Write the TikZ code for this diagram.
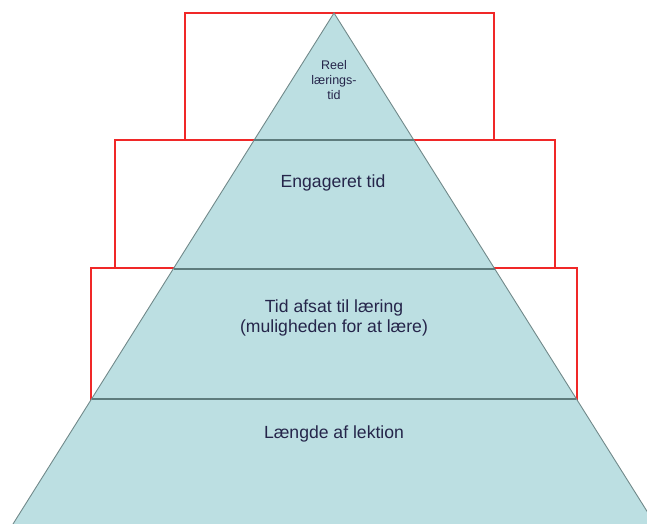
\documentclass[tikz,border=0pt]{standalone}
\usepackage{fontspec}
\setmainfont{Liberation Sans}
\definecolor{pyrfill}{HTML}{BCDFE2}
\definecolor{bandline}{HTML}{5E7C7D}
\definecolor{edgeline}{HTML}{71898A}
\definecolor{boxred}{HTML}{F02828}
\definecolor{txt}{HTML}{25254A}
\tikzset{
  redbox/.style={draw=boxred, line width=1.5pt},
  band/.style={draw=bandline, line width=2.6pt},
  lbl/.style={text=txt, align=center, inner sep=0pt, font=\fontsize{17.6}{19.5}\selectfont},
  smalllbl/.style={text=txt, align=center, inner sep=0pt, font=\fontsize{12.5}{15}\selectfont},
}
\begin{document}
\begin{tikzpicture}[x=1pt,y=-1pt]
\useasboundingbox (0,0) rectangle (647,524);
\clip (0,0) rectangle (647,524);
% red boxes
\draw[redbox] (185,13) rectangle (494,140);
\draw[redbox] (115,140) rectangle (555,268);
\draw[redbox] (91,268) rectangle (577,399);
% pyramid
\coordinate (A) at (334,13);
\coordinate (L1) at (254.4,140);
\coordinate (R1) at (413.6,140);
\coordinate (L2) at (173.5,269);
\coordinate (R2) at (494.5,269);
\coordinate (L3) at (92,399);
\coordinate (R3) at (576,399);
\coordinate (BL) at (13,524);
\coordinate (BR) at (655,524);
\fill[pyrfill] (A) -- (BL) -- (BR) -- cycle;
\draw[edgeline, line width=0.9pt] (BL) -- (A) -- (BR);
\draw[band] (L1) -- (R1);
\draw[band] (L2) -- (R2);
\draw[band] (L3) -- (R3);
% labels
\node[smalllbl] (t1) at (334,80) {Reel\\lærings-\\tid};
\node[lbl] (t2) at (333,183) {Engageret tid};
\node[lbl] (t3) at (334,318) {Tid afsat til læring\\(muligheden for at lære)};
\node[lbl] (t4) at (334,434) {Længde af lektion};
\end{tikzpicture}
\end{document}
